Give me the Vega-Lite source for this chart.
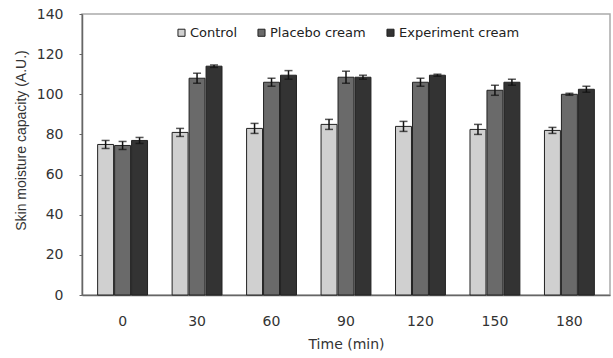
{
  "$schema": "https://vega.github.io/schema/vega-lite/v6.json",
  "width": 528,
  "height": 281,
  "autosize": "none",
  "padding": {"left": 82, "top": 14, "right": 3, "bottom": 63},
  "background": "white",
  "config": {
    "view": {"stroke": "#aaaaaa", "strokeWidth": 1.5},
    "font": "DejaVu Sans"
  },
  "data": {
    "values": [
      {"time": 0, "group": "Control", "value": 75, "lo": 73, "hi": 77},
      {"time": 0, "group": "Placebo cream", "value": 74.5, "lo": 72.5, "hi": 76.5},
      {"time": 0, "group": "Experiment cream", "value": 77, "lo": 75.5, "hi": 78.5},
      {"time": 30, "group": "Control", "value": 81, "lo": 79, "hi": 83},
      {"time": 30, "group": "Placebo cream", "value": 108, "lo": 105.5, "hi": 110.5},
      {"time": 30, "group": "Experiment cream", "value": 114, "lo": 113.4, "hi": 114.6},
      {"time": 60, "group": "Control", "value": 83, "lo": 80.5, "hi": 85.5},
      {"time": 60, "group": "Placebo cream", "value": 106, "lo": 104, "hi": 108},
      {"time": 60, "group": "Experiment cream", "value": 109.5, "lo": 107.5, "hi": 111.8},
      {"time": 90, "group": "Control", "value": 85, "lo": 82.5, "hi": 87.5},
      {"time": 90, "group": "Placebo cream", "value": 108.5, "lo": 105.5, "hi": 111.5},
      {"time": 90, "group": "Experiment cream", "value": 108.5, "lo": 107.5, "hi": 109.5},
      {"time": 120, "group": "Control", "value": 84, "lo": 81.5, "hi": 86.5},
      {"time": 120, "group": "Placebo cream", "value": 106, "lo": 104, "hi": 108},
      {"time": 120, "group": "Experiment cream", "value": 109.5, "lo": 109, "hi": 110},
      {"time": 150, "group": "Control", "value": 82.5, "lo": 80, "hi": 85},
      {"time": 150, "group": "Placebo cream", "value": 102, "lo": 99.5, "hi": 104.5},
      {"time": 150, "group": "Experiment cream", "value": 106, "lo": 104.5, "hi": 107.5},
      {"time": 180, "group": "Control", "value": 82, "lo": 80.5, "hi": 83.5},
      {"time": 180, "group": "Placebo cream", "value": 100, "lo": 99.5, "hi": 100.5},
      {"time": 180, "group": "Experiment cream", "value": 102.5, "lo": 101, "hi": 104}
    ]
  },
  "encoding": {
    "x": {
      "field": "time",
      "type": "ordinal",
      "scale": {"paddingInner": 0.33, "paddingOuter": 0.21},
      "axis": {
        "title": "Time (min)",
        "labelAngle": 0,
        "ticks": false,
        "domainColor": "#666666",
        "domainWidth": 1.5,
        "labelFont": "DejaVu Sans",
        "labelFontSize": 14,
        "labelColor": "#333333",
        "labelPadding": 19,
        "titleFont": "DejaVu Sans",
        "titleFontSize": 14,
        "titleFontWeight": "normal",
        "titleColor": "#333333",
        "titlePadding": 9
      }
    },
    "xOffset": {
      "field": "group",
      "type": "nominal",
      "sort": ["Control", "Placebo cream", "Experiment cream"],
      "scale": {"paddingInner": 0.06}
    }
  },
  "layer": [
    {
      "mark": {"type": "bar", "stroke": "#222222", "strokeWidth": 1},
      "encoding": {
        "y": {
          "field": "value",
          "type": "quantitative",
          "scale": {"domain": [0, 140]},
          "axis": {
            "title": "Skin moisture capacity (A.U.)",
            "values": [0, 20, 40, 60, 80, 100, 120, 140],
            "grid": false,
            "tickSize": 3,
            "tickColor": "#666666",
            "domainColor": "#666666",
            "domainWidth": 1.5,
            "labelFont": "DejaVu Sans",
            "labelFontSize": 14,
            "labelColor": "#333333",
            "labelPadding": 16,
            "titleFont": "Liberation Sans",
            "titleFontSize": 14,
            "titleFontWeight": "normal",
            "titleColor": "#333333",
            "titlePadding": 8,
            "titleY": 126
          }
        },
        "color": {
          "field": "group",
          "type": "nominal",
          "sort": ["Control", "Placebo cream", "Experiment cream"],
          "scale": {
            "domain": ["Control", "Placebo cream", "Experiment cream"],
            "range": ["#d0d0d0", "#6a6a6a", "#333333"]
          },
          "legend": {
            "title": null,
            "orient": "none",
            "direction": "horizontal",
            "legendX": 93,
            "legendY": 12,
            "symbolType": "square",
            "symbolSize": 50,
            "symbolStrokeColor": "#222222",
            "symbolStrokeWidth": 1,
            "labelFont": "DejaVu Sans",
            "labelFontSize": 13,
            "labelColor": "#222222",
            "labelOffset": 2,
            "columnPadding": 18
          }
        }
      }
    },
    {
      "mark": {"type": "rule", "color": "#111111", "strokeWidth": 1.5},
      "encoding": {
        "y": {"field": "lo", "type": "quantitative"},
        "y2": {"field": "hi"}
      }
    },
    {
      "mark": {"type": "tick", "color": "#111111", "thickness": 1.5, "size": 8},
      "encoding": {
        "y": {"field": "lo", "type": "quantitative"}
      }
    },
    {
      "mark": {"type": "tick", "color": "#111111", "thickness": 1.5, "size": 8},
      "encoding": {
        "y": {"field": "hi", "type": "quantitative"}
      }
    }
  ]
}
